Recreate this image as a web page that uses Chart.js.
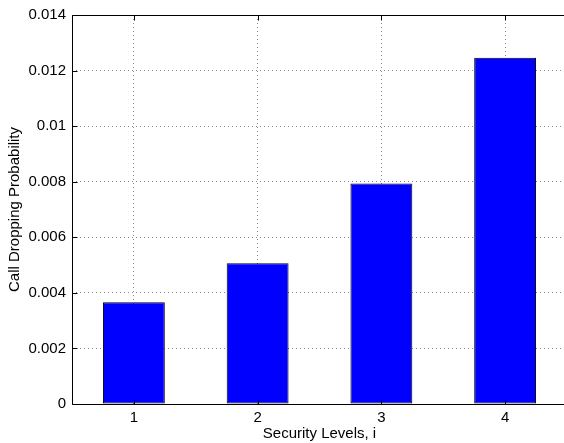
<!DOCTYPE html>
<html>
<head>
<meta charset="utf-8">
<script src="https://cdn.jsdelivr.net/npm/chart.js@4"></script>
<style>
  html, body { margin: 0; padding: 0; background: #fff; overflow: hidden; }
  #wrap { width: 700px; height: 443px; }
</style>
</head>
<body>
<div id="wrap"><canvas id="chart" width="700" height="443"></canvas></div>
<script>
// Data
const levels = ['1', '2', '3', '4'];
const dropProb = [0.00366, 0.00507, 0.00794, 0.01246];
const yTickLabels = ['0', '0.002', '0.004', '0.006', '0.008', '0.01', '0.012', '0.014'];

const font = { family: '"Liberation Sans", Arial, Helvetica, sans-serif', size: 15 };

// MATLAB-like axes box with inward tick marks
const boxPlugin = {
  id: 'box',
  afterDraw(chart) {
    const { ctx, chartArea: a, scales } = chart;
    const L = Math.round(a.left) + 0.5, R = Math.round(a.right) + 0.5;
    const T = Math.round(a.top) + 0.5, B = Math.round(a.bottom) + 0.5;
    ctx.save();
    ctx.strokeStyle = '#000';
    ctx.lineWidth = 1;
    ctx.setLineDash([]);
    ctx.beginPath();
    // top, left, bottom edges (right edge sits past the window)
    ctx.moveTo(R, T); ctx.lineTo(L, T); ctx.lineTo(L, B); ctx.lineTo(R, B);
    scales.y.ticks.forEach(t => {
      const y = Math.round(scales.y.getPixelForValue(t.value)) + 0.5;
      ctx.moveTo(L, y); ctx.lineTo(L + 5, y);
    });
    levels.forEach((_, i) => {
      const x = Math.round(scales.x.getPixelForValue(i)) + 0.5;
      ctx.moveTo(x, B); ctx.lineTo(x, B - 5);
      ctx.moveTo(x, T); ctx.lineTo(x, T + 5);
    });
    ctx.stroke();
    ctx.restore();
  }
};

new Chart(document.getElementById('chart').getContext('2d'), {
  type: 'bar',
  data: {
    labels: levels,
    datasets: [{
      data: dropProb,
      backgroundColor: '#0000ff',
      borderColor: '#000',
      borderWidth: 1,
      borderSkipped: false,
      barPercentage: 0.5,
      categoryPercentage: 1.0
    }]
  },
  options: {
    responsive: false,
    animation: false,
    layout: { padding: { top: 14, right: 133, left: 0, bottom: 0 } },
    plugins: {
      legend: { display: false },
      tooltip: { enabled: false }
    },
    scales: {
      x: {
        offset: true,
        grid: { offset: false, color: '#8a8a8a', lineWidth: 1, drawTicks: false },
        border: { display: false, dash: [1, 3] },
        ticks: { color: '#000', font: font, padding: 5, maxRotation: 0 },
        title: { display: true, text: 'Security Levels, i', color: '#000', font: font, padding: { top: 0, bottom: 0 } },
        afterFit(scale) { scale.height = 39; }
      },
      y: {
        min: 0,
        max: 0.014,
        grid: { color: '#8a8a8a', lineWidth: 1, drawTicks: false },
        border: { display: false, dash: [1, 3] },
        ticks: {
          stepSize: 0.002,
          color: '#000',
          font: font,
          padding: 6,
          callback: (v, i) => yTickLabels[i]
        },
        title: { display: true, text: 'Call Dropping Probability', color: '#000', font: font, padding: { top: 6, bottom: 0 } },
        afterFit(scale) { scale.width = 72; }
      }
    }
  },
  plugins: [boxPlugin]
});
</script>
</body>
</html>
